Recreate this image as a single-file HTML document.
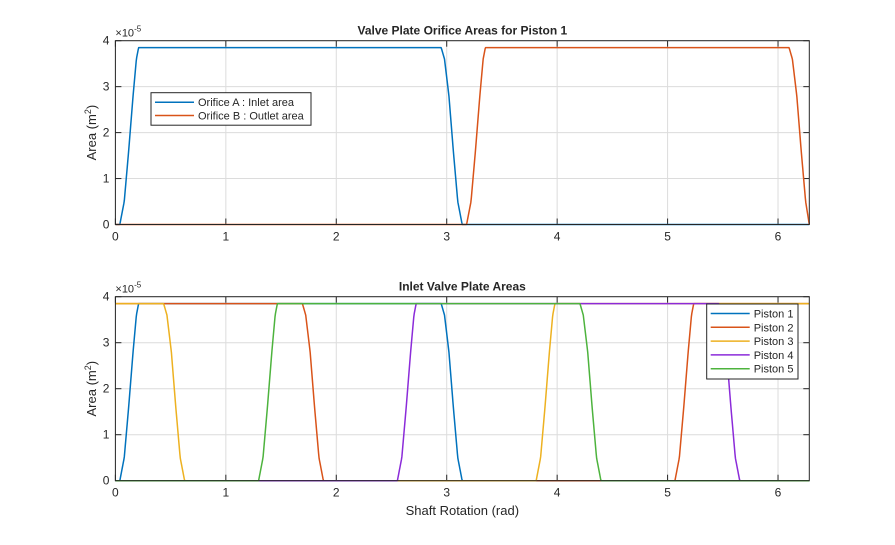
<!DOCTYPE html>
<html><head><meta charset="utf-8"><style>
body{margin:0;background:#fff;}
svg text{font-family:"Liberation Sans",Arial,sans-serif;fill:#262626;}
</style></head><body>
<svg id="chart" width="895" height="540" xmlns="http://www.w3.org/2000/svg"></svg>
<script>
// Piston 1 inlet-area profile breakpoints (rad, area x1e-5 m^2)
const inletTheta = [0, 0.04, 0.08, 0.12, 0.16, 0.19, 0.21, 2.95, 2.98, 3.02, 3.06, 3.10, 3.14, 6.2832];
const inletArea  = [0, 0, 0.5, 1.6, 2.8, 3.6, 3.85, 3.85, 3.6, 2.8, 1.6, 0.5, 0, 0];
// Piston 1 outlet-area profile breakpoints
const outletTheta = [0, 3.18, 3.22, 3.26, 3.30, 3.33, 3.35, 6.10, 6.13, 6.17, 6.21, 6.25, 6.2832];
const outletArea  = [0, 0, 0.5, 1.6, 2.8, 3.6, 3.85, 3.85, 3.6, 2.8, 1.6, 0.5, 0];
// Phase shift of each piston's inlet profile (rad)
const pistonNames = ["Piston 1","Piston 2","Piston 3","Piston 4","Piston 5"];
const pistonShift = [0, 5.0265, 3.7699, 2.5133, 1.2566];
const xTicks = [0,1,2,3,4,5,6];
const yTicks = [0,1,2,3,4];
const colors = ["#0072BD","#D95319","#EDB120","#8B2BD9","#4DB33D"];

const svg = document.getElementById('chart');
const NS = "http://www.w3.org/2000/svg";
const X0 = 115.4, XMAX = 2*Math.PI, XPX = 809.3;
function el(tag, attrs, parent){const e=document.createElementNS(NS,tag);for(const k in attrs)e.setAttribute(k,attrs[k]);(parent||svg).appendChild(e);return e;}
function interp(xs, ys, t){for(let i=0;i<xs.length-1;i++){if(t>=xs[i]&&t<=xs[i+1]){const d=xs[i+1]-xs[i];return d?ys[i]+(ys[i+1]-ys[i])*(t-xs[i])/d:ys[i];}}return ys[ys.length-1];}

function makeAxes(top, bottom, title, name){
  const sx = v => X0 + v/XMAX*(XPX-X0);
  const sy = v => bottom - v/4*(bottom-top);
  const g = el('g',{});
  
  
  xTicks.forEach(t=>{const l=el('line',{x1:sx(t),x2:sx(t),y1:top,y2:bottom,stroke:'#dcdcdc','stroke-width':1},g);});
  yTicks.forEach(t=>{const l=el('line',{x1:X0,x2:XPX,y1:sy(t),y2:sy(t),stroke:'#dcdcdc','stroke-width':1},g);});
  xTicks.forEach(t=>{
    el('line',{x1:sx(t),x2:sx(t),y1:bottom,y2:bottom-6,stroke:'#262626'},g);
    el('line',{x1:sx(t),x2:sx(t),y1:top,y2:top+6,stroke:'#262626'},g);
    const tx=el('text',{x:sx(t),y:bottom+16,'font-size':12,'text-anchor':'middle'},g);tx.textContent=t;
    
  });
  yTicks.forEach(t=>{
    el('line',{x1:X0,x2:X0+6,y1:sy(t),y2:sy(t),stroke:'#262626'},g);
    el('line',{x1:XPX,x2:XPX-6,y1:sy(t),y2:sy(t),stroke:'#262626'},g);
    const tx=el('text',{x:X0-6,y:sy(t)+4,'font-size':12,'text-anchor':'end'},g);tx.textContent=t;
    
  });
  const ex=el('text',{x:X0,y:top-4,'font-size':11},g);ex.innerHTML='×10<tspan dy="-5" font-size="8">-5</tspan>';
  
  const tt=el('text',{x:(X0+XPX)/2,y:top-6,'font-size':12,'font-weight':'bold','text-anchor':'middle',fill:'#000'},g);tt.textContent=title;
  
  const yl=el('text',{x:0,y:0,'font-size':13,'text-anchor':'middle',transform:`translate(96,${(top+bottom)/2}) rotate(-90)`},g);
  yl.innerHTML='Area  (m<tspan dy="-5" font-size="9">2</tspan><tspan dy="5">)</tspan>';
  
  return {sx,sy,g,top,bottom};
}
function series(ax, fn, color, name){
  let d='';const N=1400;
  for(let i=0;i<=N;i++){const t=XMAX*i/N;d+=(i?'L':'M')+ax.sx(t).toFixed(2)+','+ax.sy(fn(t)).toFixed(2);}
  const p=el('path',{d,fill:'none',stroke:color,'stroke-width':1.5,'stroke-linejoin':'round'},ax.g);
  
}
function frame(ax){el('rect',{x:X0,y:ax.top,width:XPX-X0,height:ax.bottom-ax.top,fill:'none',stroke:'#262626','stroke-width':1},ax.g);}
function legend(ax,x,y,w,h,items,name){
  const lg=el('g',{},ax.g);
  el('rect',{x,y,width:w,height:h,fill:'#fff',stroke:'#262626','stroke-width':1},lg);
  items.forEach((it,i)=>{
    const yy=y+9.5+i*(h-6)/items.length;
    const e=el('g',{},lg);
    el('line',{x1:x+4,x2:x+43,y1:yy,y2:yy,stroke:it[1],'stroke-width':1.5},e);
    const t=el('text',{x:x+47,y:yy+4,'font-size':11},e);t.textContent=it[0];
  });
}

// Top plot
const a1=makeAxes(40.7,224.5,'Valve Plate Orifice Areas for Piston 1','top-axes');
series(a1,t=>interp(inletTheta,inletArea,t),colors[0],'inlet-area-line');
series(a1,t=>interp(outletTheta,outletArea,t),colors[1],'outlet-area-line');
frame(a1);
legend(a1,151,92.7,160,32.5,[['Orifice A : Inlet area',colors[0]],['Orifice B : Outlet area',colors[1]]],'top-legend');

// Bottom plot
const a2=makeAxes(296.7,480.7,'Inlet Valve Plate Areas','bottom-axes');
pistonShift.forEach((s,k)=>{
  series(a2,t=>{let u=((t-s)%XMAX+XMAX)%XMAX;return interp(inletTheta,inletArea,u);},colors[k],'piston-'+(k+1)+'-line');
});
frame(a2);
legend(a2,706.7,304,91.3,75,pistonNames.map((n,k)=>[n,colors[k]]),'bottom-legend');
const xl=el('text',{x:(X0+XPX)/2,y:515,'font-size':13,'text-anchor':'middle'});xl.textContent='Shaft Rotation (rad)';


</script>
</body></html>
